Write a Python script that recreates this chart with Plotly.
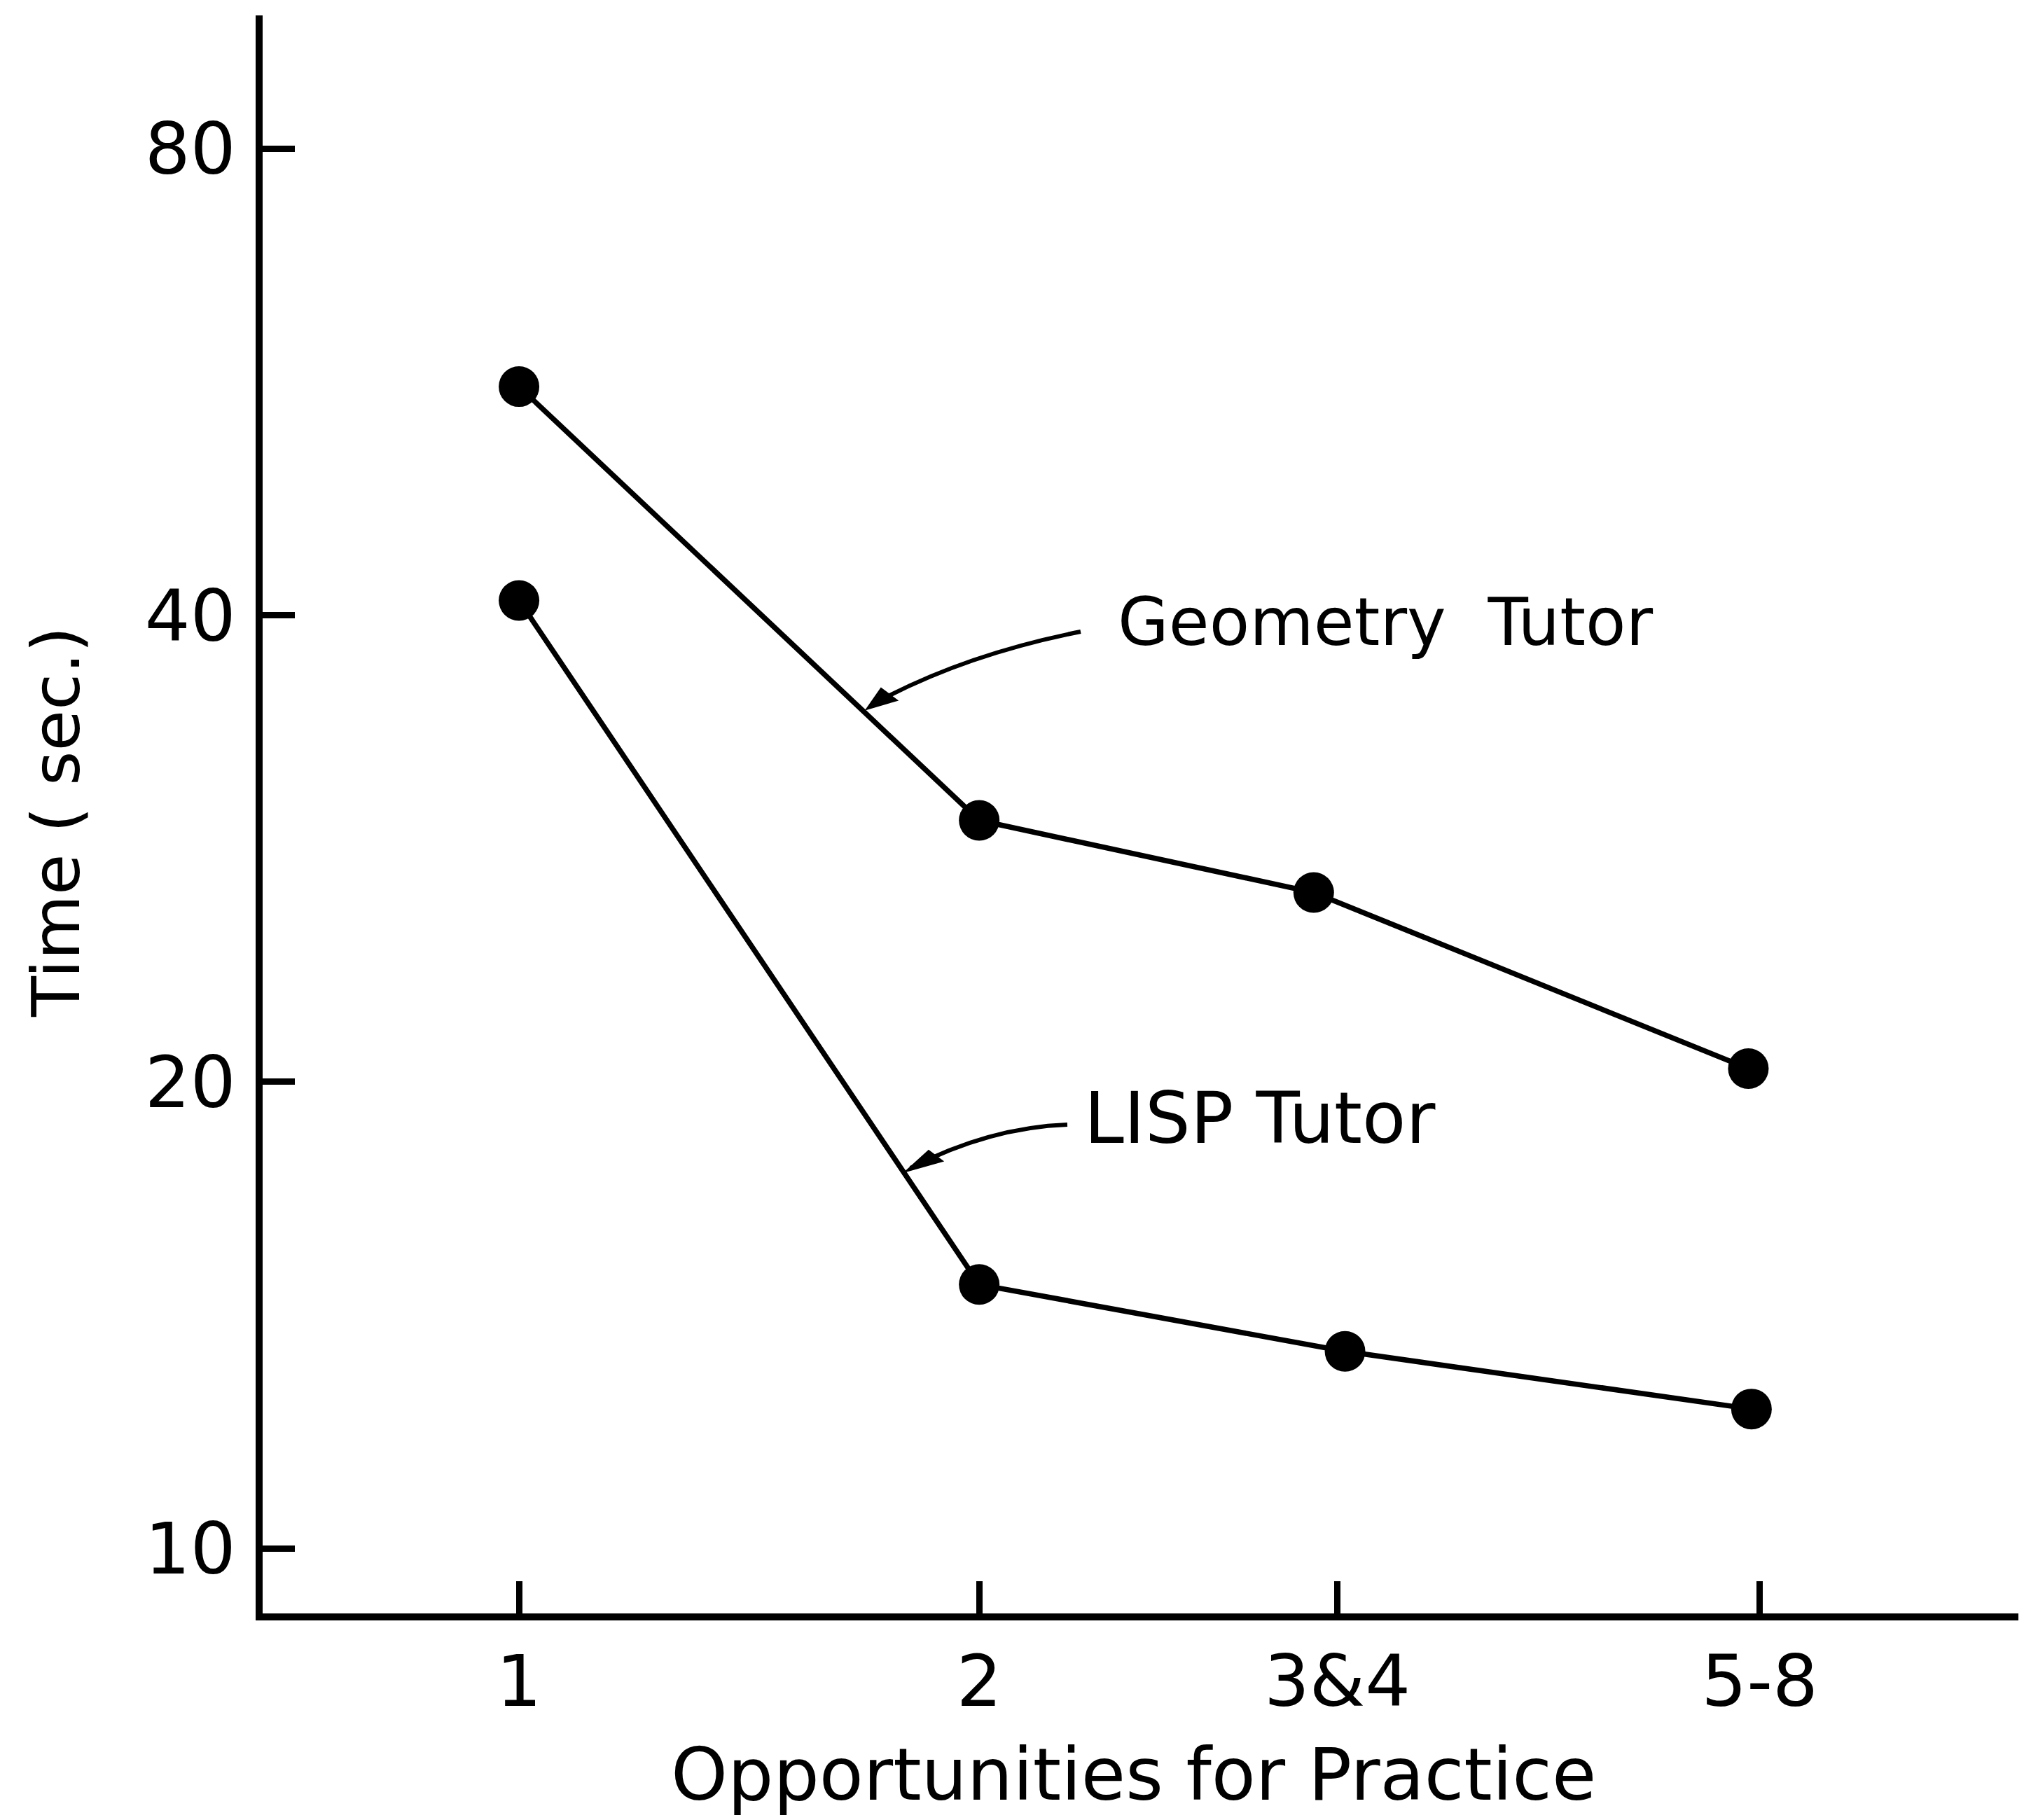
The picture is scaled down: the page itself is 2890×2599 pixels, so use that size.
import plotly.graph_objects as go

# ---- data ----
tick_vals = [1, 2, 3.43, 6.48]
tick_text = ["1", "2", "3&4", "5-8"]
y_tick_vals = [10, 20, 40, 80]
y_tick_text = ["10", "20", "40", "80"]

geo_x = [1, 2, 3.31, 6.37]
geo_y = [56.2, 29.5, 26.5, 20.4]
lisp_x = [1, 2, 3.47, 6.40]
lisp_y = [40.9, 14.8, 13.4, 12.3]

W, H = 2890, 2599
ML, MR, MT, MB = 367, 2, 14, 303
PW, PH = W - ML - MR, H - MT - MB
FONT = "DejaVu Sans"


def px(x):
    return (x - ML) / PW


def py(y):
    return (H - MB - y) / PH


fig = go.Figure()
for xs, ys, name in [(geo_x, geo_y, "Geometry Tutor"), (lisp_x, lisp_y, "LISP Tutor")]:
    fig.add_trace(go.Scatter(
        x=xs, y=ys, name=name, mode="lines+markers",
        line=dict(color="black", width=7.5),
        marker=dict(color="black", size=58, line=dict(width=0)),
        showlegend=False, cliponaxis=False,
    ))

axis_common = dict(
    showline=True, linecolor="black", linewidth=10,
    showgrid=False, zeroline=False, mirror=False,
    ticks="inside", ticklen=46, tickwidth=9, tickcolor="black",
    tickfont=dict(family=FONT, size=102, color="black"),
)

fig.update_xaxes(type="log", range=[-0.1677, 0.9872], tickmode="array",
                 tickvals=tick_vals, ticktext=tick_text, ticklabelstandoff=0,
                 **axis_common)
fig.update_yaxes(type="log", range=[0.958, 1.9893], tickmode="array",
                 tickvals=y_tick_vals, ticktext=y_tick_text, ticklabelstandoff=8,
                 **axis_common)

annotations = [
    dict(text="Time\u00a0(\u00a0sec.)", x=px(72), y=py(1166), textangle=-90,
         font=dict(family=FONT, size=95, color="black")),
    dict(text="Opportunities for Practice", x=px(1610), y=py(2526),
         font=dict(family=FONT, size=103, color="black")),
    dict(text="Geometry\u00a0 Tutor", x=px(1970), y=py(880),
         font=dict(family=FONT, size=94, color="black")),
    dict(text="LISP Tutor", x=px(1790), y=py(1588),
         font=dict(family=FONT, size=102, color="black")),
]
for a in annotations:
    a.update(xref="paper", yref="paper", showarrow=False,
             xanchor="center", yanchor="middle")

shapes = []
# curved leader lines
for p0, c, p2 in [((1535, 894), (1364, 928), (1236, 999)),
                  ((1516, 1598), (1405, 1602), (1292, 1660))]:
    shapes.append(dict(
        type="path", xref="paper", yref="paper",
        path=f"M {px(p0[0])},{py(p0[1])} Q {px(c[0])},{py(c[1])} {px(p2[0])},{py(p2[1])}",
        line=dict(color="black", width=6),
    ))
# barbed arrowheads
for tri in [[(1229, 1005), (1250, 975), (1273, 992)],
            [(1285, 1665), (1318, 1635), (1338, 1650)]]:
    pts = " L ".join(f"{px(a)},{py(b)}" for a, b in tri)
    shapes.append(dict(type="path", xref="paper", yref="paper",
                       path=f"M {pts} Z", fillcolor="black",
                       line=dict(color="black", width=2)))

fig.update_layout(
    width=W, height=H,
    margin=dict(l=ML, r=MR, t=MT, b=MB),
    paper_bgcolor="white", plot_bgcolor="white",
    annotations=annotations, shapes=shapes,
)

fig.write_html("out.html")
